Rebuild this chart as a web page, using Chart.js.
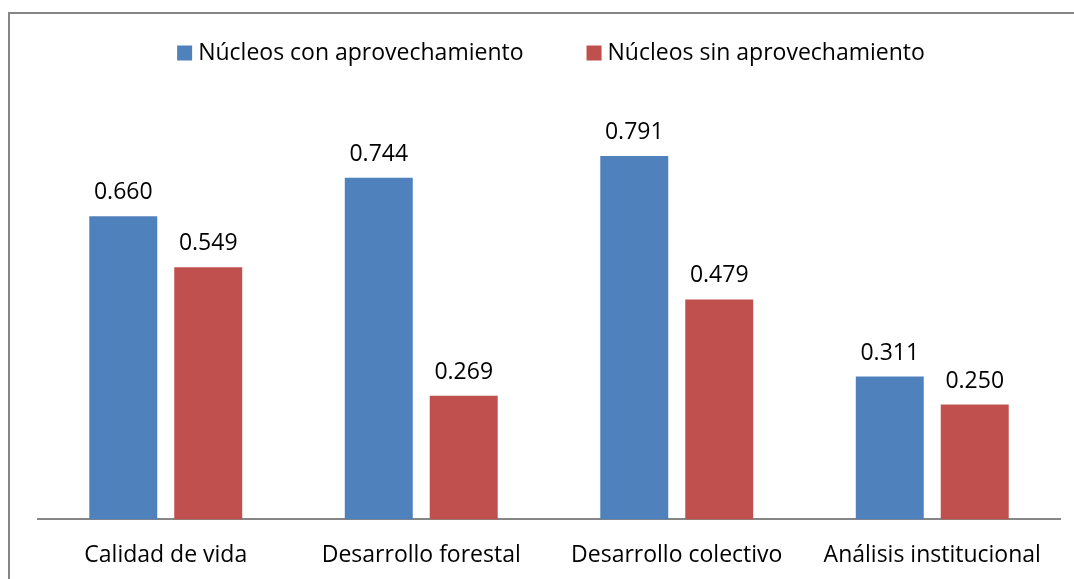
<!DOCTYPE html>
<html>
<head>
<meta charset="utf-8">
<script src="https://cdn.jsdelivr.net/npm/chart.js@4"></script>
<style>
  html, body { margin: 0; padding: 0; background: #fff; }
  #wrap { width: 1074px; height: 579px; position: relative; }
</style>
</head>
<body>
<div id="wrap"><canvas id="c" width="1074" height="579"></canvas></div>
<script>
const categories = ["Calidad de vida", "Desarrollo forestal", "Desarrollo colectivo", "Análisis institucional"];
const seriesNames = ["Núcleos con aprovechamiento", "Núcleos sin aprovechamiento"];
const conAprovechamiento = [0.660, 0.744, 0.791, 0.311];
const sinAprovechamiento = [0.549, 0.269, 0.479, 0.250];
const colors = ["#4F81BD", "#C0504D"];
const FONT = "'Open Sans', 'Noto Sans', sans-serif";

const frame = {
  id: 'frame',
  beforeDraw(chart) {
    const ctx = chart.ctx;
    ctx.save();
    ctx.fillStyle = '#fff';
    ctx.fillRect(0, 0, chart.width, chart.height);
    ctx.strokeStyle = '#868686';
    ctx.lineWidth = 2;
    ctx.beginPath();
    ctx.moveTo(9, chart.height);
    ctx.lineTo(9, 13);
    ctx.lineTo(chart.width, 13);
    ctx.stroke();
    ctx.restore();
  }
};

const valueLabels = {
  id: 'valueLabels',
  afterDatasetsDraw(chart) {
    const ctx = chart.ctx;
    ctx.save();
    ctx.font = "23px " + FONT;
    ctx.fillStyle = '#000';
    ctx.textAlign = 'center';
    ctx.textBaseline = 'alphabetic';
    chart.data.datasets.forEach((ds, di) => {
      const meta = chart.getDatasetMeta(di);
      meta.data.forEach((bar, i) => {
        ctx.fillText(ds.data[i].toFixed(3), bar.x, bar.y - 17);
      });
    });
    ctx.restore();
  }
};

const topLegend = {
  id: 'topLegend',
  afterDraw(chart) {
    const ctx = chart.ctx;
    ctx.save();
    ctx.font = "23px " + FONT;
    ctx.textBaseline = 'middle';
    ctx.textAlign = 'left';
    const box = 15, gapText = 6, gapItem = 63;
    const items = chart.data.datasets.map(d => ({ label: d.label, color: d.backgroundColor, w: ctx.measureText(d.label).width }));
    let total = 0;
    items.forEach((it, i) => { total += box + gapText + it.w + (i < items.length - 1 ? gapItem : 0); });
    const cx = (chart.chartArea.left + chart.chartArea.right) / 2 + 2;
    let x = cx - total / 2;
    const yc = 53;
    items.forEach(it => {
      ctx.fillStyle = it.color;
      ctx.fillRect(x, yc - box / 2, box, box);
      x += box + gapText;
      ctx.fillStyle = '#000';
      ctx.fillText(it.label, x, yc);
      x += it.w + gapItem;
    });
    ctx.restore();
  }
};

new Chart(document.getElementById('c'), {
  type: 'bar',
  data: {
    labels: categories,
    datasets: [
      { label: seriesNames[0], data: conAprovechamiento, backgroundColor: colors[0] },
      { label: seriesNames[1], data: sinAprovechamiento, backgroundColor: colors[1] }
    ]
  },
  options: {
    responsive: false,
    animation: false,
    devicePixelRatio: 1,
    layout: { padding: { left: 38, right: 14, top: 106, bottom: -12 } },
    categoryPercentage: 0.665,
    barPercentage: 0.8,
    plugins: {
      legend: { display: false },
      tooltip: { enabled: false }
    },
    scales: {
      x: {
        grid: { display: false, drawTicks: false },
        border: { display: true, color: '#868686', width: 2 },
        ticks: { color: '#000', font: { family: FONT, size: 23 }, padding: 22 }
      },
      y: {
        display: false,
        min: 0,
        max: 0.9
      }
    }
  },
  plugins: [frame, valueLabels, topLegend]
});
</script>
</body>
</html>
